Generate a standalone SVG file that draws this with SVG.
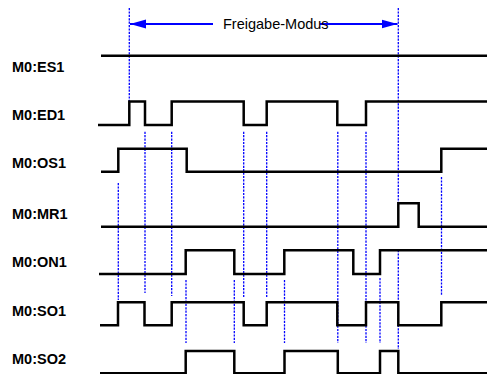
<svg xmlns="http://www.w3.org/2000/svg" width="487" height="374" viewBox="0 0 487 374">
<defs>
<style>
.lbl{font-family:"Liberation Sans",Arial,sans-serif;font-weight:bold;font-size:14.5px;fill:#000}
.sig{fill:none;stroke:#000;stroke-width:2.5;stroke-linejoin:miter}
.dot{fill:none;stroke:#0000ff;stroke-width:1.3;stroke-dasharray:2.2 1.2}
.arr{fill:none;stroke:#0000ff;stroke-width:2}
.ttl{font-family:"Liberation Sans",Arial,sans-serif;font-size:14.5px;fill:#000}
</style>
<marker id="ah" viewBox="0 0 16 10" refX="16" refY="5" markerWidth="16" markerHeight="10" markerUnits="userSpaceOnUse" orient="auto">
<path d="M0,0.5 L16,5 L0,9.5 Z" fill="#0000ff"/>
</marker>
</defs>
<rect width="487" height="374" fill="#fff"/>
<g id="guides">
<path class="dot" d="M129.3,8V101 M398.3,8V203 M398.3,250V349 M118.3,183V300 M145,131.7V293 M171.7,131.7V296 M186,280V343 M234.3,280V343 M243.7,131.7V297 M266.7,131.7V297 M284.5,280V343 M337.8,131.7V343 M366,131.7V343 M380,278V343 M441.5,177V295"/>
</g>
<g id="mode">
<path class="arr" d="M213,24H130" marker-end="url(#ah)"/>
<path class="arr" d="M320,24H397.5" marker-end="url(#ah)"/>
<text class="ttl" x="223" y="29">Freigabe-Modus</text>
</g>
<g id="ES1"><text class="lbl" x="12" y="72">M0:ES1</text><path class="sig" d="M101,55.7H487"/></g>
<g id="ED1"><text class="lbl" x="12" y="120">M0:ED1</text><path class="sig" d="M98,125H129.3V101.5H145V125H171.7V101.5H243.7V125H266.7V101.5H337.3V125H366V101.5H487"/></g>
<g id="OS1"><text class="lbl" x="12" y="168">M0:OS1</text><path class="sig" d="M101,171.7H118.3V148.7H186.7V171.7H441.3V148.7H487"/></g>
<g id="MR1"><text class="lbl" x="12" y="219">M0:MR1</text><path class="sig" d="M101,226.7H398.3V203.3H418.7V226.7H487"/></g>
<g id="ON1"><text class="lbl" x="12" y="267">M0:ON1</text><path class="sig" d="M99,274H185.7V250.3H234.3V274H284.3V250.3H353.3V274H380V250.3H487"/></g>
<g id="SO1"><text class="lbl" x="12" y="316">M0:SO1</text><path class="sig" d="M100,325.3H118V302.3H144.5V325.3H171.7V302.3H243.7V325.3H266.7V302.3H337.3V325.3H366V302.3H398.3V325.3H441.3V302.3H487"/></g>
<g id="SO2"><text class="lbl" x="12" y="364">M0:SO2</text><path class="sig" d="M100,373.3H185.7V351H234.3V373.3H284.5V351H337.8V373.3H380V351H398.3V373.3H487"/></g>
</svg>
